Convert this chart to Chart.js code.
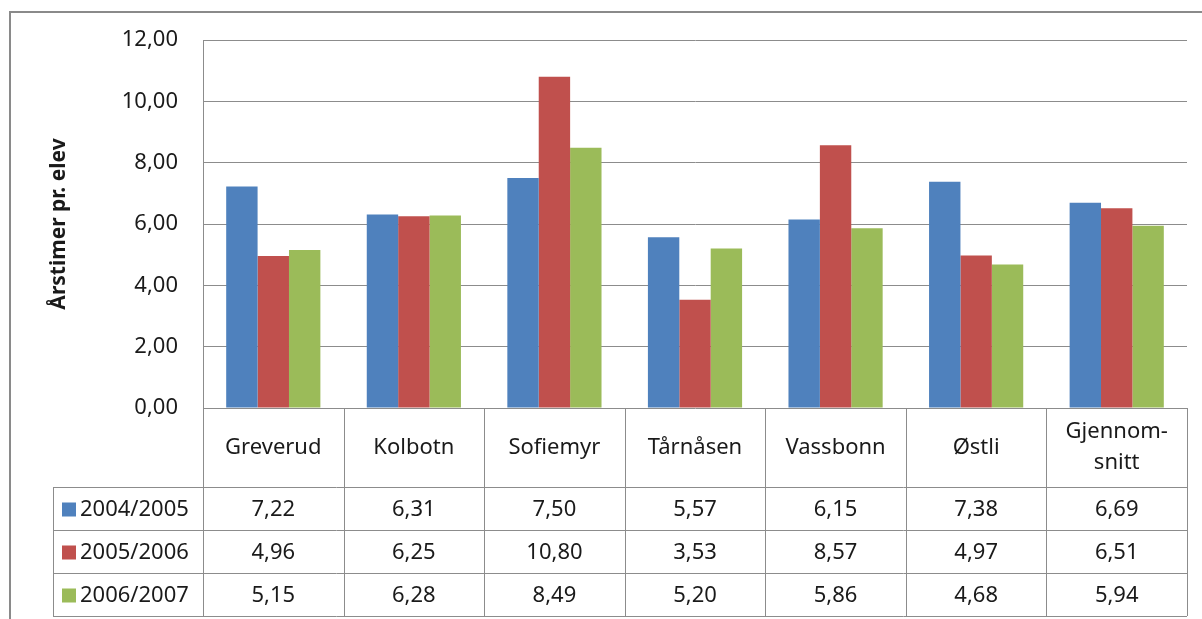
<!DOCTYPE html>
<html>
<head>
<meta charset="utf-8">
<script src="https://cdn.jsdelivr.net/npm/chart.js@4.4.1/dist/chart.umd.min.js"></script>
<style>
  html, body { margin: 0; padding: 0; background: #fff; }
  #wrap { width: 1202px; height: 619px; }
</style>
</head>
<body>
<div id="wrap"><canvas id="chart" width="1202" height="619"></canvas></div>
<script>
// data
const categories = ["Greverud", "Kolbotn", "Sofiemyr", "Tårnåsen", "Vassbonn", "Østli", ["Gjennom-", "snitt"]];
const seriesNames = ["2004/2005", "2005/2006", "2006/2007"];
const values0405 = [7.22, 6.31, 7.50, 5.57, 6.15, 7.38, 6.69];
const values0506 = [4.96, 6.25, 10.80, 3.53, 8.57, 4.97, 6.51];
const values0607 = [5.15, 6.28, 8.49, 5.20, 5.86, 4.68, 5.94];
const yMin = 0, yMax = 12, yStep = 2;
const yTitle = "Årstimer pr. elev";

const colors = ["#4F81BD", "#C0504D", "#9BBB59"];
const FONT = "'Noto Sans', 'Open Sans', sans-serif";
const TEXT = "#1a1a1a";
const LINE = "#8c8c8c";

function fmt(v) {
  return v.toFixed(2).replace(".", ",");
}

// ══════════════════════════════════════════
// FRAME + Y TITLE + DATA TABLE
// ══════════════════════════════════════════
const tablePlugin = {
  id: "dataTable",
  beforeDraw(chart) {
    const c = chart.ctx;
    c.save();
    c.fillStyle = "#fff";
    c.fillRect(0, 0, chart.width, chart.height);
    c.strokeStyle = "#8a8a8a";
    c.lineWidth = 2;
    c.beginPath();
    c.moveTo(10, chart.height + 5);
    c.lineTo(10, 12);
    c.lineTo(chart.width + 5, 12);
    c.stroke();
    c.restore();
  },
  afterDraw(chart) {
    const c = chart.ctx;
    const area = chart.chartArea;
    const x = chart.scales.x;
    const n = categories.length;
    const w = area.width / n;
    const headTop = area.bottom;
    const headBot = 487;
    const rowH = 43;
    const tableLeft = 53;
    const bottom = headBot + rowH * seriesNames.length;
    const data = chart.data.datasets.map((d) => d.data);

    c.save();
    // y axis title
    c.translate(59, (area.top + area.bottom) / 2);
    c.rotate(-Math.PI / 2);
    c.font = "bold 21px " + FONT;
    c.fillStyle = TEXT;
    c.textAlign = "center";
    c.textBaseline = "middle";
    c.fillText(yTitle, 0, 0);
    c.restore();

    c.save();
    c.strokeStyle = LINE;
    c.lineWidth = 1;
    c.beginPath();
    // vertical lines
    for (let i = 0; i <= n; i++) {
      const px = Math.round(x.getPixelForValue(i) - w / 2) + 0.5;
      c.moveTo(px, headTop);
      c.lineTo(px, bottom);
    }
    c.moveTo(tableLeft + 0.5, headBot);
    c.lineTo(tableLeft + 0.5, bottom);
    // horizontal lines
    for (let r = 0; r <= seriesNames.length; r++) {
      const py = headBot + r * rowH + 0.5;
      c.moveTo(tableLeft, py);
      c.lineTo(area.right, py);
    }
    c.stroke();

    c.font = "22px " + FONT;
    c.fillStyle = TEXT;
    c.textAlign = "center";
    c.textBaseline = "middle";
    // header
    categories.forEach((cat, i) => {
      const cx = x.getPixelForValue(i);
      const lines = Array.isArray(cat) ? cat : [cat];
      const mid = (headTop + headBot) / 2;
      lines.forEach((ln, k) => {
        c.fillText(ln, cx, mid + (k - (lines.length - 1) / 2) * 31);
      });
    });
    // rows
    seriesNames.forEach((name, r) => {
      const cy = headBot + r * rowH + rowH / 2 + 1;
      c.fillStyle = colors[r];
      c.fillRect(62, cy - 7, 14, 14);
      c.fillStyle = TEXT;
      c.textAlign = "left";
      c.fillText(name, 80, cy);
      c.textAlign = "center";
      data[r].forEach((v, i) => {
        c.fillText(fmt(v), x.getPixelForValue(i), cy);
      });
    });
    c.restore();
  },
};

new Chart(document.getElementById("chart"), {
  type: "bar",
  data: {
    labels: categories,
    datasets: [
      { label: seriesNames[0], data: values0405, backgroundColor: colors[0] },
      { label: seriesNames[1], data: values0506, backgroundColor: colors[1] },
      { label: seriesNames[2], data: values0607, backgroundColor: colors[2] },
    ],
  },
  options: {
    responsive: false,
    animation: false,
    categoryPercentage: 0.67,
    barPercentage: 1,
    layout: { padding: { left: 0, right: 15, top: 40, bottom: 211 } },
    plugins: {
      legend: { display: false },
      tooltip: { enabled: false },
    },
    scales: {
      x: { display: false },
      y: {
        min: yMin,
        max: yMax,
        afterFit: (scale) => { scale.width = 203; },
        ticks: {
          stepSize: yStep,
          padding: 25,
          color: TEXT,
          font: { family: FONT, size: 22 },
          callback: (v) => fmt(v),
        },
        grid: { color: LINE, lineWidth: 1, drawTicks: false },
        border: { display: true, color: LINE },
      },
    },
  },
  plugins: [tablePlugin],
});
</script>
</body>
</html>
